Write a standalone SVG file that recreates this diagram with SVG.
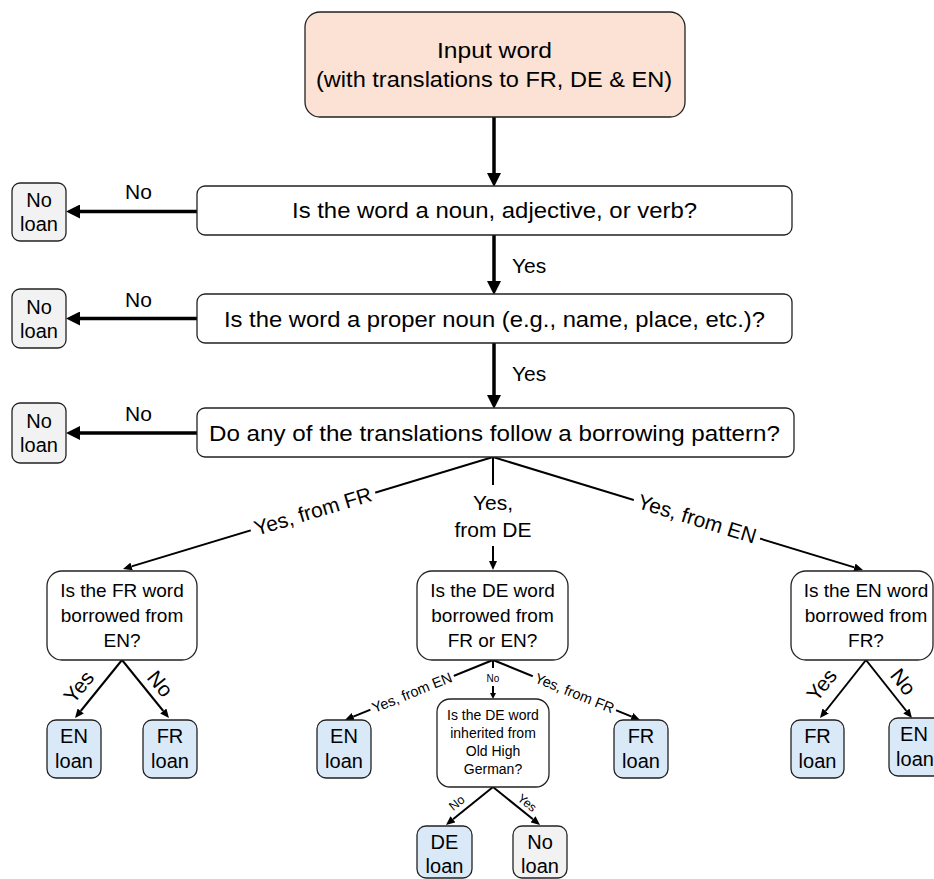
<svg xmlns="http://www.w3.org/2000/svg" width="934" height="879" viewBox="0 0 934 879">
<style>
  text { font-family: "Liberation Sans", Arial, sans-serif; fill: #000; }
  .box { fill: #ffffff; stroke: #222; stroke-width: 1.3; }
  .start { fill: #fbe2d5; stroke: #222; stroke-width: 1.3; }
  .noloan { fill: #f2f2f2; stroke: #222; stroke-width: 1.3; }
  .loan { fill: #dae9f8; stroke: #222; stroke-width: 1.3; }
  .thick { stroke: #000; stroke-width: 3.5; fill: none; }
  .thin { stroke: #000; stroke-width: 2; fill: none; }
  .c { text-anchor: middle; }
  .q { font-size: 22px; }
  .q2 { font-size: 19px; }
  .q3 { font-size: 14px; }
  .lb { font-size: 20px; }
  .lbl { font-size: 21px; }
</style>
<defs>
  <marker id="bigHead" markerUnits="userSpaceOnUse" markerWidth="14" markerHeight="14" refX="0" refY="7" orient="auto">
    <path d="M0,0 L14,7 L0,14 z" fill="#000"/>
  </marker>
  <marker id="head" markerUnits="userSpaceOnUse" markerWidth="9" markerHeight="8" refX="0" refY="4" orient="auto">
    <path d="M0,0 L9,4 L0,8 z" fill="#000"/>
  </marker>
  <marker id="smallHead" markerUnits="userSpaceOnUse" markerWidth="6" markerHeight="6" refX="0" refY="3" orient="auto">
    <path d="M0,0 L6,3 L0,6 z" fill="#000"/>
  </marker>
</defs>

<g id="connectors">
  <!-- main column -->
  <line class="thick" x1="494" y1="117" x2="494" y2="173" marker-end="url(#bigHead)"/>
  <line class="thick" x1="494" y1="235" x2="494" y2="281" marker-end="url(#bigHead)"/>
  <line class="thick" x1="494" y1="343" x2="494" y2="395" marker-end="url(#bigHead)"/>
  <line class="thick" x1="197" y1="211.5" x2="80" y2="211.5" marker-end="url(#bigHead)"/>
  <line class="thick" x1="197" y1="318.5" x2="80" y2="318.5" marker-end="url(#bigHead)"/>
  <line class="thick" x1="197" y1="433" x2="80" y2="433" marker-end="url(#bigHead)"/>
  <!-- three branches -->
  <line class="thin" x1="493" y1="457" x2="131.6" y2="566.4" marker-end="url(#head)"/>
  <line class="thin" x1="493" y1="457" x2="854.4" y2="567.4" marker-end="url(#head)"/>
  <line class="thin" x1="493" y1="457" x2="493" y2="485"/>
  <line class="thin" x1="493" y1="546" x2="493" y2="561" marker-end="url(#head)"/>
  <!-- FR box branches -->
  <line class="thin" x1="122" y1="660" x2="80.7" y2="711" marker-end="url(#head)"/>
  <line class="thin" x1="122" y1="660" x2="163.3" y2="711" marker-end="url(#head)"/>
  <!-- EN box branches -->
  <line class="thin" x1="866" y1="660" x2="825.6" y2="711" marker-end="url(#head)"/>
  <line class="thin" x1="866" y1="660" x2="906.4" y2="711" marker-end="url(#head)"/>
  <!-- DE box branches -->
  <line class="thin" x1="493" y1="660" x2="353.3" y2="716.6" marker-end="url(#head)"/>
  <line class="thin" x1="493" y1="660" x2="631.7" y2="716.6" marker-end="url(#head)"/>
  <line class="thin" x1="493" y1="660" x2="493" y2="668"/>
  <line class="thin" x1="493" y1="686" x2="493" y2="693" marker-end="url(#smallHead)"/>
  <!-- OHG box branches -->
  <line class="thin" x1="493" y1="787" x2="453" y2="819.3" marker-end="url(#head)"/>
  <line class="thin" x1="493" y1="787" x2="533" y2="819.3" marker-end="url(#head)"/>

  <!-- labels -->
  <text class="lbl" x="125" y="199">No</text>
  <text class="lbl" x="125" y="307">No</text>
  <text class="lbl" x="125" y="421">No</text>
  <text class="lbl" x="512" y="273">Yes</text>
  <text class="lbl" x="512" y="381">Yes</text>
  <g transform="translate(313,511.5) rotate(-16.8)">
    <rect x="-65" y="-12" width="130" height="24" fill="#fff"/>
    <text class="lbl c" x="0" y="7">Yes, from FR</text>
  </g>
  <g transform="translate(697,519) rotate(17)">
    <rect x="-66" y="-12" width="132" height="24" fill="#fff"/>
    <text class="lbl c" x="0" y="7">Yes, from EN</text>
  </g>
  <text class="lbl c" x="493" y="510">Yes,</text>
  <text class="lbl c" x="493" y="537">from DE</text>
  <text class="lbl c" transform="translate(79,687) rotate(-50.5)" x="0" y="7">Yes</text>
  <text class="lbl c" transform="translate(160,684) rotate(50.5)" x="0" y="7">No</text>
  <text class="lbl c" transform="translate(822,685) rotate(-51.6)" x="0" y="7">Yes</text>
  <text class="lbl c" transform="translate(903,682) rotate(51.6)" x="0" y="7">No</text>
  <g transform="translate(412,692.5) rotate(-22)">
    <rect x="-45" y="-8" width="90" height="16" fill="#fff"/>
    <text class="c" font-size="14.5" x="0" y="5">Yes, from EN</text>
  </g>
  <g transform="translate(574.5,693) rotate(22)">
    <rect x="-45" y="-8" width="90" height="16" fill="#fff"/>
    <text class="c" font-size="14.5" x="0" y="5">Yes, from FR</text>
  </g>
  <text class="c" font-size="10" x="493" y="682">No</text>
  <text class="c" font-size="12.5" transform="translate(457,803) rotate(-39)" x="0" y="4">No</text>
  <text class="c" font-size="12.5" transform="translate(527,803) rotate(39)" x="0" y="4">Yes</text>
</g>

<g id="input">
  <rect class="start" x="305" y="12" width="380" height="105" rx="15"/>
  <text class="q c" x="494.5" y="58" textLength="115" lengthAdjust="spacingAndGlyphs">Input word</text>
  <text class="q c" x="494" y="87" textLength="356" lengthAdjust="spacingAndGlyphs">(with translations to FR, DE &amp; EN)</text>
</g>
<g id="q-pos">
  <rect class="box" x="197" y="186" width="595" height="49" rx="8"/>
  <text class="q c" x="494.5" y="218" textLength="405" lengthAdjust="spacingAndGlyphs">Is the word a noun, adjective, or verb?</text>
</g>
<g id="q-proper">
  <rect class="box" x="197" y="294" width="595" height="49" rx="8"/>
  <text class="q c" x="494.5" y="327" textLength="541" lengthAdjust="spacingAndGlyphs">Is the word a proper noun (e.g., name, place, etc.)?</text>
</g>
<g id="q-pattern">
  <rect class="box" x="197" y="408" width="597" height="49" rx="8"/>
  <text class="q c" x="494.5" y="441" textLength="571" lengthAdjust="spacingAndGlyphs">Do any of the translations follow a borrowing pattern?</text>
</g>

<g id="noloan1">
  <rect class="noloan" x="12" y="183" width="54" height="58" rx="8"/>
  <text class="lb c" x="39" y="207">No</text>
  <text class="lb c" x="39" y="231">loan</text>
</g>
<g id="noloan2">
  <rect class="noloan" x="12" y="289" width="54" height="59" rx="8"/>
  <text class="lb c" x="39" y="314">No</text>
  <text class="lb c" x="39" y="338">loan</text>
</g>
<g id="noloan3">
  <rect class="noloan" x="12" y="403" width="54" height="60" rx="8"/>
  <text class="lb c" x="39" y="428">No</text>
  <text class="lb c" x="39" y="452">loan</text>
</g>

<g id="q-fr">
  <rect class="box" x="47" y="571" width="150" height="89" rx="15"/>
  <text class="q2 c" x="122" y="597">Is the FR word</text>
  <text class="q2 c" x="122" y="622">borrowed from</text>
  <text class="q2 c" x="122" y="647">EN?</text>
</g>
<g id="q-de">
  <rect class="box" x="417" y="571" width="151" height="89" rx="15"/>
  <text class="q2 c" x="492.5" y="597">Is the DE word</text>
  <text class="q2 c" x="492.5" y="622">borrowed from</text>
  <text class="q2 c" x="492.5" y="647">FR or EN?</text>
</g>
<g id="q-en">
  <rect class="box" x="791" y="571" width="142" height="89" rx="15"/>
  <text class="q2 c" x="866" y="597">Is the EN word</text>
  <text class="q2 c" x="866" y="622">borrowed from</text>
  <text class="q2 c" x="866" y="647">FR?</text>
</g>
<g id="q-ohg">
  <rect class="box" x="437" y="699" width="112" height="88" rx="13"/>
  <text class="q3 c" x="493" y="720">Is the DE word</text>
  <text class="q3 c" x="493" y="738">inherited from</text>
  <text class="q3 c" x="493" y="756">Old High</text>
  <text class="q3 c" x="493" y="774">German?</text>
</g>

<g id="fr-en-loan">
  <rect class="loan" x="47" y="720" width="54" height="58" rx="9"/>
  <text class="lb c" x="74" y="743">EN</text>
  <text class="lb c" x="74" y="768">loan</text>
</g>
<g id="fr-fr-loan">
  <rect class="loan" x="143" y="720" width="54" height="58" rx="9"/>
  <text class="lb c" x="170" y="743">FR</text>
  <text class="lb c" x="170" y="768">loan</text>
</g>
<g id="de-en-loan">
  <rect class="loan" x="317" y="720" width="54" height="58" rx="9"/>
  <text class="lb c" x="344" y="743">EN</text>
  <text class="lb c" x="344" y="768">loan</text>
</g>
<g id="de-fr-loan">
  <rect class="loan" x="614" y="720" width="54" height="58" rx="9"/>
  <text class="lb c" x="641" y="743">FR</text>
  <text class="lb c" x="641" y="768">loan</text>
</g>
<g id="en-fr-loan">
  <rect class="loan" x="791" y="720" width="53" height="58" rx="9"/>
  <text class="lb c" x="817.5" y="743">FR</text>
  <text class="lb c" x="817.5" y="768">loan</text>
</g>
<g id="en-en-loan">
  <rect class="loan" x="889" y="718" width="54" height="58" rx="9"/>
  <text class="lb c" x="914" y="741">EN</text>
  <text class="lb c" x="915" y="766">loan</text>
</g>
<g id="de-loan">
  <rect class="loan" x="417" y="826" width="55" height="52" rx="9"/>
  <text class="lb c" x="444.5" y="849">DE</text>
  <text class="lb c" x="444.5" y="873">loan</text>
</g>
<g id="ohg-noloan">
  <rect class="noloan" x="513" y="826" width="54" height="52" rx="9"/>
  <text class="lb c" x="540" y="849">No</text>
  <text class="lb c" x="540" y="873">loan</text>
</g>
</svg>
